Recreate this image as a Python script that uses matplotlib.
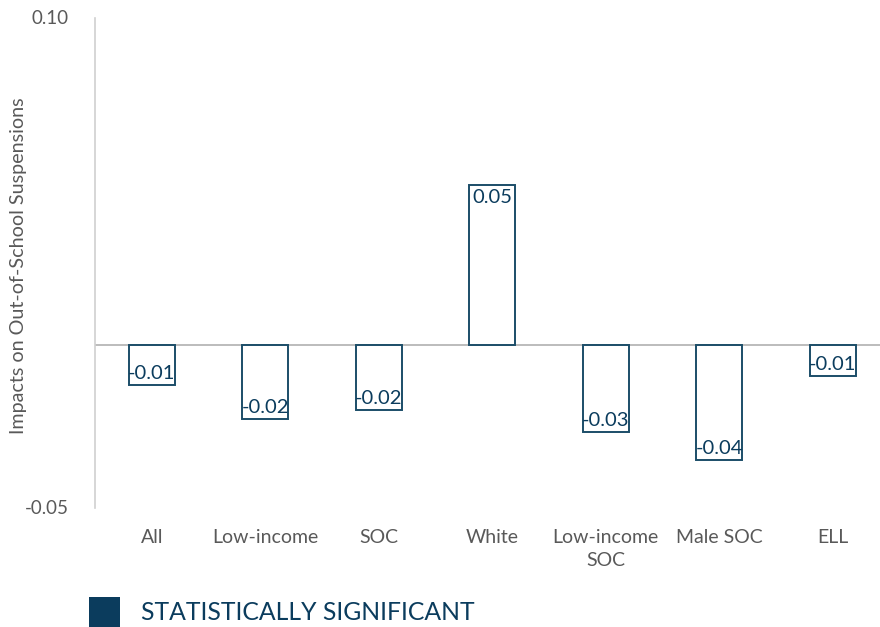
import matplotlib
matplotlib.use("Agg")
import matplotlib.pyplot as plt
from matplotlib.patches import Rectangle

categories = ["All", "Low-income", "SOC", "White", "Low-income\nSOC", "Male SOC", "ELL"]
values = [-0.0123, -0.0227, -0.0199, 0.049, -0.0267, -0.0352, -0.0096]
labels = ["-0.01", "-0.02", "-0.02", "0.05", "-0.03", "-0.04", "-0.01"]
ytick_vals = [-0.05, 0.10]
ytick_labels = ["-0.05", "0.10"]
legend_label = "STATISTICALLY SIGNIFICANT"

plt.rcParams['font.family'] = ['Lato', 'DejaVu Sans']
navy = "#0b3c5d"
edge = "#1b4d68"
gray = "#595959"

fig = plt.figure(figsize=(8.8, 6.27), dpi=100)
ax = fig.add_axes([95/880, 1-508/627, 785/880, 490/627])

x = list(range(len(categories)))
ax.bar(x, values, width=0.405, facecolor="white", edgecolor=edge, linewidth=1.4, zorder=3)
ax.axhline(0, color="#b0b0b0", linewidth=1.2, zorder=2)

for xi, v, lab in zip(x, values, labels):
    if v >= 0:
        ax.annotate(lab, (xi, v), xytext=(0, -3), textcoords="offset points",
                    ha="center", va="top", fontsize=14.5, color=navy, zorder=4)
    else:
        ax.annotate(lab, (xi, v), xytext=(0, 2), textcoords="offset points",
                    ha="center", va="bottom", fontsize=14.5, color=navy, zorder=4)

ax.set_xlim(-0.5, -0.5 + 785/113.5)
ax.set_ylim(-0.05, 0.10)
ax.set_yticks(ytick_vals)
ax.set_yticklabels(ytick_labels, fontsize=13.5, color=gray)
ax.set_xticks(x)
ax.set_xticklabels(categories, fontsize=14, color=gray, linespacing=1.45)
ax.tick_params(axis="both", length=0)
ax.tick_params(axis="x", pad=15)
ax.tick_params(axis="y", pad=19)
for lbl in ax.get_yticklabels():
    lbl.set_verticalalignment("center")

for s in ["top", "right", "bottom"]:
    ax.spines[s].set_visible(False)
ax.spines["left"].set_color("#d0d0d0")
ax.spines["left"].set_linewidth(1.2)

fig.text(19/880, 1-266/627, "Impacts on Out-of-School Suspensions", rotation=90,
         ha="center", va="center", fontsize=14.2, color=gray)

fig.patches.append(Rectangle((89/880, 1-627/627), 31/880, 30/627, transform=fig.transFigure,
                             facecolor=navy, edgecolor="none"))
fig.text(141/880, 1-612/627, legend_label, ha="left", va="center", fontsize=17.8, color=navy)

fig.savefig("out.png", dpi=100)
